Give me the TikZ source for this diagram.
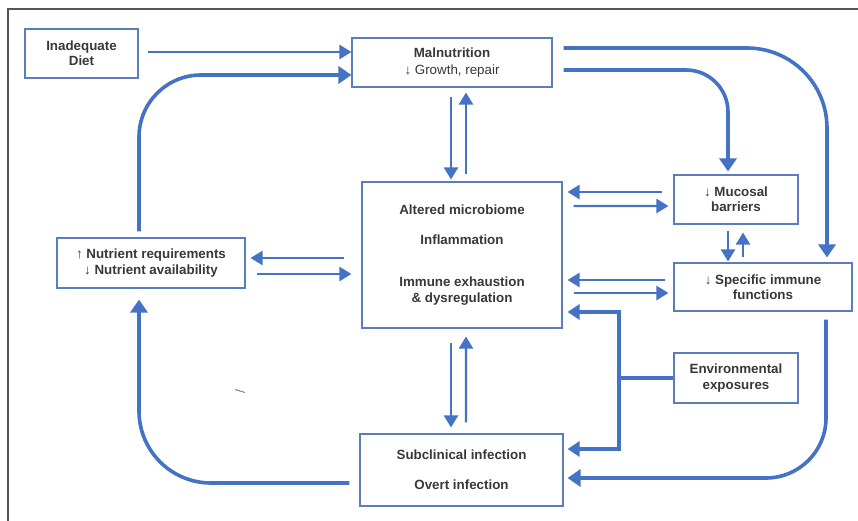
\documentclass[tikz,border=0pt]{standalone}
\usepackage{fontspec}
\setmainfont{Liberation Sans}
\usetikzlibrary{arrows.meta,calc}
\definecolor{ablue}{HTML}{4472C4}
\definecolor{bblue}{HTML}{5A7DBE}
\definecolor{txt}{HTML}{383838}
\definecolor{framegray}{HTML}{555555}
\begin{document}
\begin{tikzpicture}[x=1bp,y=-1bp,
  box/.style={draw=bblue, line width=1.1bp, inner sep=0pt, align=center, text=txt,
    font=\bfseries\fontsize{13.4}{15.5}\selectfont},
  arrT/.style={draw=ablue, line width=2.3bp, -{Triangle[length=12bp,width=14bp]}},
  arrK/.style={draw=ablue, line width=3.6bp, -{Triangle[length=13bp,width=17bp]}},
  envline/.style={draw=ablue, line width=4bp},
  envtip/.style={{Triangle[length=12bp,width=15bp]}-{Triangle[length=12bp,width=15bp]}}
]
\useasboundingbox (0,0) rectangle (858,521);
\fill[white] (0,0) rectangle (858,521);
\draw[framegray, line width=2bp] (8,521) -- (8,9) -- (858,9);

% boxes
\node[box, minimum width=113bp, minimum height=49bp] (diet) at (81.5,53.5) {Inadequate\\Diet};
\node[box, minimum width=200bp, minimum height=49bp] (mal) at (452,62.5) {Malnutrition\\[1bp]{\mdseries ↓ Growth, repair}};
\node[box, minimum width=200bp, minimum height=146bp] (cen) at (462,255)
  {Altered microbiome\\[14bp]Inflammation\\[27bp]Immune exhaustion\\\& dysregulation};
\node[box, minimum width=188bp, minimum height=50bp] (nut) at (151,263) {↑ Nutrient requirements\\↓ Nutrient availability};
\node[box, minimum width=124bp, minimum height=49bp] (muc) at (736,199.5) {↓ Mucosal\\barriers};
\node[box, minimum width=178bp, minimum height=48bp] (spec) at (763,287) {↓ Specific immune\\functions};
\node[box, minimum width=124bp, minimum height=50bp] (env) at (736,378) {Environmental\\[1bp]exposures};
\node[box, minimum width=203bp, minimum height=72bp] (inf) at (461.5,470) {Subclinical infection\\[15bp]Overt infection};

% straight connectors
\draw[arrT] ($(diet.east)+(9,-1.5)$) -- ($(mal.west)+(0,-10.5)$);
\draw[arrT] ($(mal.south)+(-1,9)$) -- ($(cen.north)+(-11,-2)$);
\draw[arrT] ($(cen.north)+(4,-7)$) -- ($(mal.south)+(14,5)$);
\draw[arrT] ($(muc.west)+(-11,-7.5)$) -- ($(cen.east)+(5,-63)$);
\draw[arrT] ($(cen.east)+(11,-49)$) -- ($(muc.west)+(-5,6.5)$);
\draw[arrT] ($(muc.south)+(-8,6)$) -- ($(spec.north)+(-35,-1)$);
\draw[arrT] ($(spec.north)+(-20,-5)$) -- ($(muc.south)+(7,8)$);
\draw[arrT] ($(spec.west)+(-8,-7)$) -- ($(cen.east)+(5,25)$);
\draw[arrT] ($(cen.east)+(11,38)$) -- ($(spec.west)+(-5,6)$);
\draw[arrT] ($(cen.west)+(-17,3)$) -- ($(nut.east)+(5,-5)$);
\draw[arrT] ($(nut.east)+(11,11)$) -- ($(cen.west)+(-10,19)$);
\draw[arrT] ($(cen.south)+(-11,14)$) -- ($(inf.north)+(-10.5,-6)$);
\draw[arrT] ($(inf.north)+(4.5,-11)$) -- ($(cen.south)+(4,8)$);

% curved connectors
\draw[arrK, rounded corners=62bp] ($(nut.north)+(-12,-6)$) |- ($(mal.west)+(0,12.5)$);
\draw[arrK, rounded corners=42bp] ($(mal.east)+(11,7.5)$) -| ($(muc.north)+(-8,-3)$);
\draw[arrK, rounded corners=80bp] ($(mal.east)+(11,-14.5)$) -| ($(spec.north)+(64,-5)$);
\draw[arrK, rounded corners=60bp] ($(spec.south)+(63,8)$) |- ($(inf.east)+(4,8)$);
\draw[arrK, rounded corners=72bp] ($(inf.west)+(-10,13)$) -| ($(nut.south)+(-12,11)$);

% environmental exposures
\coordinate (jn) at ($(env.west)+(-54,0)$);
\draw[envline] (env.west) -- (jn);
\draw[envline, envtip] ($(cen.east)+(5,57)$) -| (jn) |- ($(inf.east)+(4,-21)$);

% stray mark
\draw[gray, line width=1bp] (235,389.5) -- (245,392.5);
\end{tikzpicture}
\end{document}
